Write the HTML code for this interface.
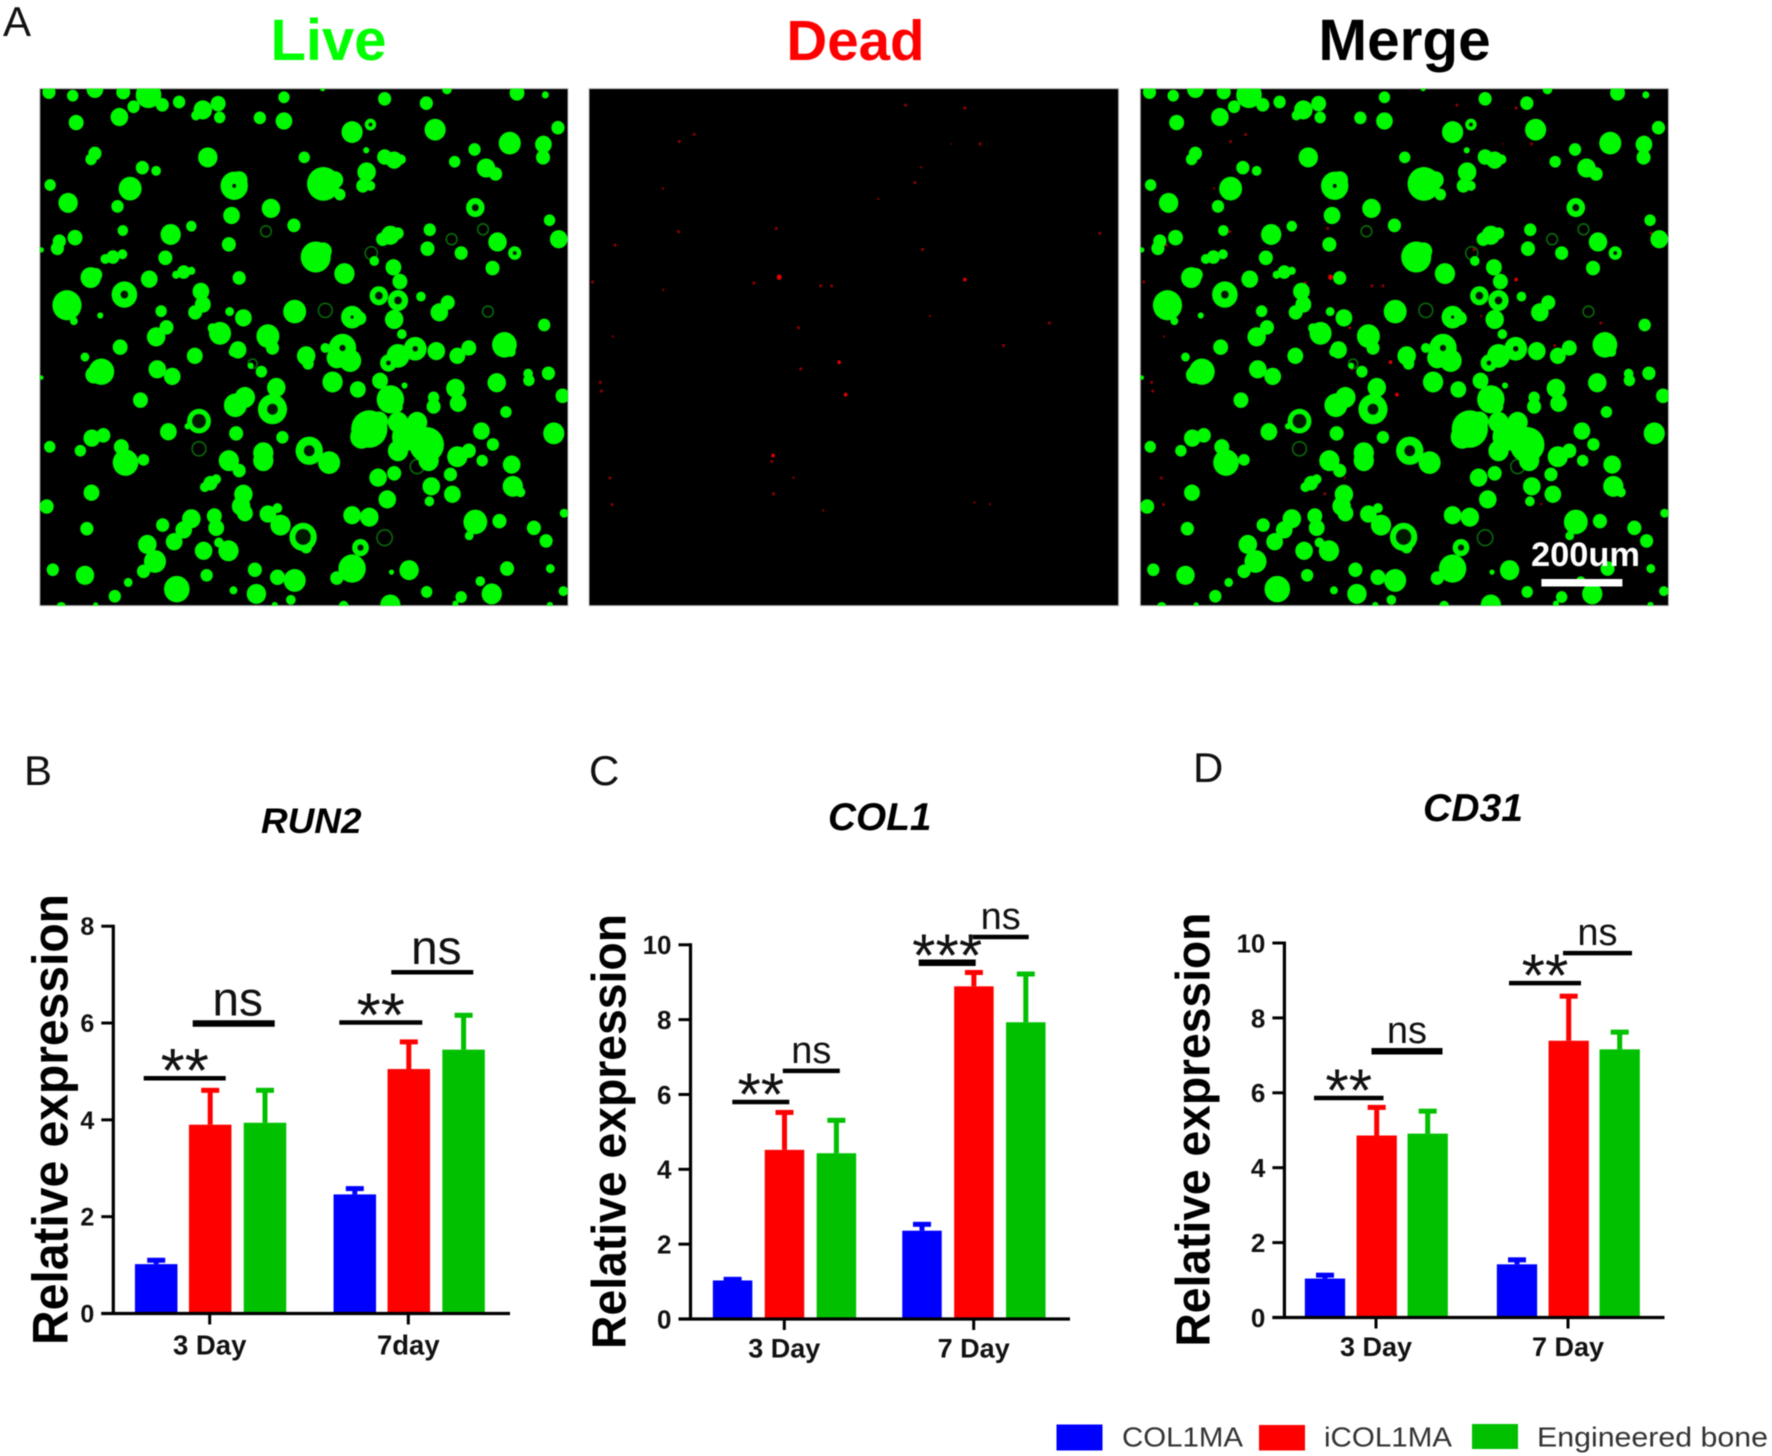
<!DOCTYPE html>
<html lang="en">
<head>
<meta charset="utf-8">
<title>Live/dead staining and relative gene expression</title>
<style>
html,body{margin:0;padding:0;background:#fff;}
svg{display:block;font-family:"Liberation Sans",Arial,sans-serif;filter:blur(0.5px);}
</style>
</head>
<body>
<svg id="figure" width="1772" height="1456" viewBox="0 0 1772 1456" xmlns="http://www.w3.org/2000/svg">
  <rect width="1772" height="1456" fill="#fff"/>
  <defs>
    <clipPath id="cellClip"><rect x="104" y="224" width="1380" height="1308"/></clipPath>
  </defs>

  <text x="3" y="36" font-size="42" fill="#111">A</text>
  <text x="24" y="785" font-size="42" fill="#111">B</text>
  <text x="589" y="785" font-size="42" fill="#111">C</text>
  <text x="1193" y="782" font-size="42" fill="#111">D</text>

  <text x="328.500" y="60" font-size="58" font-weight="700" text-anchor="middle" fill="#00ff00">Live</text>
  <text x="855.500" y="60" font-size="56.500" font-weight="700" text-anchor="middle" fill="#ff0000">Dead</text>
  <text x="1404.500" y="60" font-size="58.500" font-weight="700" text-anchor="middle" fill="#000">Merge</text>

  <rect x="39.800" y="88.600" width="528.200" height="517.100" fill="#000" stroke="#bbb" stroke-width="1"/>
  <rect x="589" y="88.600" width="529.600" height="517.100" fill="#000" stroke="#bbb" stroke-width="1"/>
  <rect x="1140.300" y="88.600" width="528.200" height="517.100" fill="#000" stroke="#bbb" stroke-width="1"/>

  <g id="liveCells" transform="translate(0,0) scale(0.3827,0.3954)"></g>
  <g id="deadCells" transform="translate(580,0) scale(0.357,0.3954)"></g>
  <g id="mergeDead" transform="translate(1131.300,0) scale(0.357,0.3954)"></g>
  <g id="mergeCells" transform="translate(1100.500,0) scale(0.3827,0.3954)"></g>

  <rect x="1541.400" y="579" width="81" height="7.500" fill="#fff"/>
  <text x="1531" y="566" font-size="34.400" font-weight="700" fill="#fff" textLength="109" lengthAdjust="spacingAndGlyphs">200um</text>

  <g id="chartB"></g>
  <g id="chartC"></g>
  <g id="chartD"></g>

  <g>
    <rect x="1056.500" y="1424.500" width="46" height="26" fill="#0000ff"/>
    <text x="1122" y="1446.500" font-size="28" fill="#333" textLength="121" lengthAdjust="spacingAndGlyphs">COL1MA</text>
    <rect x="1259" y="1425" width="46" height="25.500" fill="#ff0000"/>
    <text x="1324" y="1446.500" font-size="28" fill="#333" textLength="128" lengthAdjust="spacingAndGlyphs">iCOL1MA</text>
    <rect x="1472" y="1424" width="46" height="25" fill="#00c000"/>
    <text x="1537" y="1446.500" font-size="28" fill="#333" textLength="231" lengthAdjust="spacingAndGlyphs">Engineered bone</text>
  </g>
</svg>

<script>
// ---- Chart data ----
const run2Title = 'RUN2';
const run2Categories = ['3 Day', '7day'];
const run2TickLabels = [0, 2, 4, 6, 8];
const run2Col1ma = [1.02, 2.46];
const run2Col1maTop = [1.10, 2.58];
const run2Icol1ma = [3.90, 5.05];
const run2Icol1maTop = [4.61, 5.61];
const run2Bone = [3.94, 5.45];
const run2BoneTop = [4.61, 6.16];
const run2SigLabels = ['**', 'ns', '**', 'ns'];
const run2SigLevels = [4.86, 5.99, 6.01, 7.05];

const col1Title = 'COL1';
const col1Categories = ['3 Day', '7 Day'];
const col1TickLabels = [0, 2, 4, 6, 8, 10];
const col1Col1ma = [1.03, 2.36];
const col1Col1maTop = [1.06, 2.53];
const col1Icol1ma = [4.52, 8.89];
const col1Icol1maTop = [5.52, 9.26];
const col1Bone = [4.43, 7.93];
const col1BoneTop = [5.31, 9.22];
const col1SigLabels = ['**', 'ns', '***', 'ns'];
const col1SigLevels = [5.80, 6.63, 9.52, 10.21];

const cd31Title = 'CD31';
const cd31Categories = ['3 Day', '7 Day'];
const cd31TickLabels = [0, 2, 4, 6, 8, 10];
const cd31Col1ma = [1.04, 1.42];
const cd31Col1maTop = [1.13, 1.54];
const cd31Icol1ma = [4.86, 7.39];
const cd31Icol1maTop = [5.61, 8.58];
const cd31Bone = [4.91, 7.16];
const cd31BoneTop = [5.51, 7.62];
const cd31SigLabels = ['**', 'ns', '**', 'ns'];
const cd31SigLevels = [5.86, 7.11, 8.93, 9.73];

// ---- Micrograph blobs ----
const liveBlobs = [
[128,233,14],[190,242,12],[248,226,18],[322,233,15],[388,240,28],[424,265,14],[349,270,13],[468,258,13],[530,278,20],[512,292,10],[570,262,16],[574,297,12],[742,246,12],[1005,250,14],[1114,261,14],[1351,235,16],[843,224,5],[1168,226,10],[1425,240,7],
[199,310,16],[312,296,19],[679,298,13],[742,306,18],[920,334,23],[968,315,12],[1137,328,23],[1458,323,14],[1332,362,24],[1420,365,18],[1240,378,13],[1419,398,15],
[957,380,6],[1005,397,16],[1030,405,18],[1048,403,10],[248,388,14],[238,403,12],[543,398,21],[795,398,12],[1188,409,12],[1270,425,20],[1295,440,14],
[372,424,14],[408,432,10],[131,468,12],[340,477,25],[178,513,21],[307,522,13],
[612,470,30],[625,455,18],[845,465,36],[875,455,18],[958,435,20],[948,470,14],[968,470,10],[888,492,12],
[708,527,20],[1242,525,20],[768,570,14],[605,545,18],[500,572,11],[321,583,11],[446,593,22],[1436,557,12],
[196,601,16],[155,610,14],[150,628,14],[108,632,5],[1123,581,13],[1020,595,20],[1000,605,14],[1040,590,12],[1300,612,20],[1460,605,19],[598,618,15],[1117,629,15],[1205,640,14],[1345,640,14],
[825,650,33],[845,635,18],[295,650,14],[320,643,10],[275,655,10],[432,652,15],[900,692,22],[1028,676,17],[1287,678,15],[978,660,10],
[480,688,14],[460,695,8],[500,685,8],[237,702,22],[250,695,14],[390,706,18],[625,703,14],[325,745,28],
[525,737,18],[175,772,32],[160,785,15],[193,812,8],[770,788,25],[990,748,20],[1040,760,22],[1100,750,10],[1045,712,16],
[1170,765,15],[1148,790,19],[530,770,17],[510,790,15],[600,788,9],[636,804,18],[421,787,12],[262,798,6],[920,802,24],[940,805,14],[1030,808,20],[1422,822,13],
[435,828,15],[408,852,20],[575,843,24],[555,830,10],[700,850,25],[712,880,14],[1318,872,27],[1335,890,10],[1050,845,10],
[314,878,16],[622,885,18],[610,890,10],[800,900,20],[805,920,12],[895,880,30],[880,905,22],[915,912,24],[850,880,10],[1085,882,25],[1040,900,25],[1015,918,18],[1140,888,19],[1195,900,17],[1225,880,16],[509,900,17],[222,903,9],
[265,940,28],[245,948,18],[411,934,19],[450,952,18],[683,940,12],[655,925,6],[1380,945,10],[1382,962,12],[1433,944,14],[108,955,4],
[869,966,22],[993,963,17],[1298,968,20],[722,980,20],[935,985,17],[1190,982,20],[1057,975,6],
[1470,1001,15],[367,1012,16],[640,1005,22],[615,1025,25],[712,1035,32],[1020,1010,30],[1040,1030,10],[1133,1005,12],[1133,1028,15],[1197,1020,18],[1322,1042,12],
[520,1065,26],[490,1078,6],[440,1092,18],[965,1085,40],[945,1105,25],[990,1065,20],[1040,1068,22],[1090,1068,22],[1060,1105,30],[1040,1140,22],[1115,1125,38],[1120,1165,22],[1258,1090,18],[1447,1096,23],
[617,1096,15],[738,1106,13],[240,1108,18],[270,1101,15],[210,1140,12],[130,1130,12],[317,1130,16],[328,1170,28],[375,1163,12],[1288,1124,13],
[808,1140,30],[860,1170,24],[688,1145,22],[688,1165,22],[598,1165,22],[625,1190,14],
[1195,1155,22],[1225,1140,15],[1260,1165,12],[1337,1175,19],
[988,1208,19],[1030,1197,15],[1177,1200,14],[1127,1230,19],[550,1222,15],[535,1232,10],[565,1212,10],[1340,1230,22],[1360,1245,10],[239,1246,17],
[1182,1250,18],[1012,1263,19],[636,1250,20],[630,1280,20],[640,1298,17],[1122,1268,10],[122,1281,15],[1242,1320,26],[1305,1318,15],[1474,1298,9],
[920,1303,19],[965,1308,20],[700,1300,18],[725,1285,10],[733,1328,22],[425,1328,14],[500,1312,20],[480,1340,18],[455,1370,18],[560,1305,16],[565,1335,17],[227,1337,14],[1395,1335,15],
[792,1358,30],[800,1385,12],[942,1385,18],[385,1377,20],[1427,1368,14],[1226,1355,9],[572,1372,10],[532,1393,19],[597,1393,22],
[405,1420,24],[375,1445,14],[138,1441,13],[222,1455,20],[335,1473,9],[920,1438,30],[880,1462,14],[1069,1442,21],[1023,1447,5],[1325,1438,15],[1438,1438,9],[666,1441,15],[540,1455,13],[725,1460,16],[770,1468,24],
[462,1490,28],[300,1508,13],[670,1502,21],[610,1493,8],[1115,1497,12],[1205,1510,12],[1285,1502,22],[1255,1470,10],[1472,1495,10],[760,1517,10],
[160,1535,10],[1020,1530,22],[898,1532,10],[718,1530,6],[1437,1530,6],[1190,1527,6],[250,1530,5]
];
const blobHoles = [
[808,1140,14],[712,1035,14],[792,1358,20],[1040,760,10],[990,748,10],[942,1385,8],[612,470,5],[1242,525,9],[968,315,5],[325,745,10],[895,880,8],[1015,918,6],[1085,882,7],[520,1065,18],[1345,640,5],[920,802,4]
];
const dimBlobs = [
[695,585,14],[520,1135,18],[1005,1360,20],[1180,605,14],[1262,580,14],[1275,788,14],[970,640,16],[660,920,12],[850,785,18],[1090,1180,18]
];
const deadDots = [
[912,266,4],[1078,273,4],[320,340,4],[278,358,4],[1121,364,4],[232,477,3],[938,462,4],[836,503,3],[276,586,4],[550,578,4],[98,620,4],[1456,590,4],[960,631,4],[558,701,7],[35,713,4],[487,716,4],[674,723,4],[705,723,4],[233,733,3],[1078,707,5],[980,799,3],[612,829,4],[1315,817,4],[92,851,3],[1186,874,4],[726,916,5],[618,933,4],[57,967,4],[60,989,4],[744,998,5],[541,1152,5],[537,1167,4],[84,1209,4],[598,1208,3],[90,1276,4],[542,1249,4],[681,1291,3],[1105,1271,3],[1148,1275,3],[956,423,3],[1040,364,2]
];

const SVG_NS = 'http://www.w3.org/2000/svg';
function mk(parent, tag, attrs, text) {
  const el = document.createElementNS(SVG_NS, tag);
  Object.keys(attrs).forEach(function (k) { el.setAttribute(k, attrs[k]); });
  if (text !== undefined) el.textContent = text;
  parent.appendChild(el);
  return el;
}

function drawLive(group) {
  group.setAttribute('clip-path', 'url(#cellClip)');
  dimBlobs.forEach(function (b) {
    const el = mk(group, 'circle', {cx: b[0], cy: b[1], r: b[2], fill: 'none', stroke: '#0a6a0a', 'stroke-width': 4});
    
    
  });
  liveBlobs.forEach(function (b) {
    const el = mk(group, 'circle', {cx: b[0], cy: b[1], r: b[2] * 1.16 + 1, fill: '#00f800'});
    
    
  });
  blobHoles.forEach(function (b) {
    const el = mk(group, 'circle', {cx: b[0], cy: b[1], r: b[2], fill: '#001a00'});
    
    
  });
}
function drawDead(group) {
  deadDots.forEach(function (b) {
    const el = mk(group, 'circle', {cx: b[0], cy: b[1], r: b[2], fill: b[2] > 4 ? '#e00000' : '#900000'});
    
    
  });
}
drawLive(document.getElementById('liveCells'));
drawLive(document.getElementById('mergeCells'));
drawDead(document.getElementById('deadCells'));
drawDead(document.getElementById('mergeDead'));

const seriesColors = ['#0000ff', '#ff0000', '#00c000'];
const seriesNames = ['col1ma', 'icol1ma', 'engineered-bone'];

function drawChart(g, c) {
  const yMax = c.ticks[c.ticks.length - 1];
  const yScale = function (v) { return c.y0 - (v / yMax) * (c.y0 - c.yTop); };
  const xScale = function (group, offset) { return c.xTicks[group] + offset; };

  c.series.forEach(function (values, s) {
    values.forEach(function (v, i) {
      const cx = xScale(i, c.offsets[s]);
      const top = c.tops[s][i];
      const stem = mk(g, 'rect', {x: cx - 2.5, y: yScale(top), width: 5, height: yScale(v) - yScale(top), fill: seriesColors[s]});
      
      
      const cap = mk(g, 'rect', {x: cx - 9, y: yScale(top) - 2.5, width: 18, height: 5, fill: seriesColors[s]});
      
      
      const bar = mk(g, 'rect', {x: cx - c.barW / 2, y: yScale(v), width: c.barW, height: c.y0 - yScale(v), fill: seriesColors[s]});
      
      
    });
  });

  const xAxis = mk(g, 'line', {x1: c.axisX - 12, y1: c.y0, x2: c.axisRight, y2: c.y0, stroke: '#000', 'stroke-width': 3.2});
  
  
  const yAxis = mk(g, 'line', {x1: c.axisX, y1: c.y0 + 1.5, x2: c.axisX, y2: yScale(yMax) - 1.5, stroke: '#000', 'stroke-width': 3.2});
  
  

  c.ticks.forEach(function (t) {
    const tick = mk(g, 'line', {x1: c.axisX - 12, y1: yScale(t), x2: c.axisX, y2: yScale(t), stroke: '#000', 'stroke-width': 3});
    
    
    const label = mk(g, 'text', {x: c.axisX - 19, y: yScale(t) + c.tickSize * 0.36, 'font-size': c.tickSize, 'font-weight': 700, 'text-anchor': 'end', fill: '#111'}, t);
    
    
  });

  c.categories.forEach(function (name, i) {
    const tick = mk(g, 'line', {x1: xScale(i, 0), y1: c.y0, x2: xScale(i, 0), y2: c.y0 + 11, stroke: '#000', 'stroke-width': 3});
    
    
    const label = mk(g, 'text', {x: xScale(i, 0), y: c.catBaseline, 'font-size': c.catSize, 'font-weight': 700, 'text-anchor': 'middle', fill: '#111'}, name);
    
    
  });

  const yTitle = mk(g, 'text', {
    transform: 'translate(' + c.yTitleX + ',' + c.yTitleY + ') rotate(-90)',
    'font-size': c.yTitleSize, 'font-weight': 700, fill: '#000',
    textLength: c.yTitleLen, lengthAdjust: 'spacingAndGlyphs'
  }, 'Relative expression');
  
  

  const title = mk(g, 'text', {
    x: c.titleX, y: c.titleY, 'font-size': c.titleSize, 'font-weight': 700, 'font-style': 'italic',
    fill: '#000', textLength: c.titleLen, lengthAdjust: 'spacingAndGlyphs'
  }, c.title);
  
  

  c.sigLabels.forEach(function (lab, i) {
    const s = c.sigSpans[i];
    const group = Math.floor(i / 2);
    const x1 = xScale(group, s[0]);
    const x2 = xScale(group, s[1]);
    const y = yScale(c.sigLevels[i]);
    const line = mk(g, 'line', {x1: x1, y1: y, x2: x2, y2: y, stroke: '#000', 'stroke-width': s[2]});
    
    
    const isStar = lab.charAt(0) === '*';
    const size = isStar ? c.starSize : c.nsSize;
    const baseY = isStar ? y - 14 + size * 0.45 : y - 8;
    const labelX = (x1 + x2) / 2 + (isStar ? 0 : c.nsDx);
    const t = mk(g, 'text', {x: labelX, y: baseY, 'font-size': size, 'text-anchor': 'middle', fill: '#111'}, lab);
    
    
  });
}

drawChart(document.getElementById('chartB'), {
  title: run2Title, categories: run2Categories, ticks: run2TickLabels,
  series: [run2Col1ma, run2Icol1ma, run2Bone], tops: [run2Col1maTop, run2Icol1maTop, run2BoneTop],
  sigLabels: run2SigLabels, sigLevels: run2SigLevels,
  sigSpans: [[-66, 16, 4.5], [-17, 65, 6.5], [-69, 14, 4.5], [-17, 65, 4.5]],
  axisX: 113.3, axisRight: 510, y0: 1313.5, yTop: 926.2,
  xTicks: [209.7, 408.3], offsets: [-53.5, 0.5, 55.3], barW: 42.5,
  tickSize: 25, catSize: 27.5, catBaseline: 1354.7,
  yTitleX: 67.7, yTitleY: 1345, yTitleSize: 50, yTitleLen: 451,
  titleX: 261, titleY: 832.8, titleSize: 35, titleLen: 100.5,
  nsSize: 48, nsDx: 4, starSize: 62
});
drawChart(document.getElementById('chartC'), {
  title: col1Title, categories: col1Categories, ticks: col1TickLabels,
  series: [col1Col1ma, col1Icol1ma, col1Bone], tops: [col1Col1maTop, col1Icol1maTop, col1BoneTop],
  sigLabels: col1SigLabels, sigLevels: col1SigLevels,
  sigSpans: [[-52, 5, 4.5], [-1.5, 55.5, 4.5], [-55, 2, 6.5], [-1, 55, 4.5]],
  axisX: 690.5, axisRight: 1070, y0: 1319, yTop: 944.8,
  xTicks: [784.3, 973.7], offsets: [-51.7, 0.2, 52.1], barW: 39.5,
  tickSize: 26, catSize: 27, catBaseline: 1357.6,
  yTitleX: 625.5, yTitleY: 1349, yTitleSize: 48, yTitleLen: 435,
  titleX: 828, titleY: 830, titleSize: 38.8, titleLen: 103.5,
  nsSize: 38, nsDx: 0, starSize: 60
});
drawChart(document.getElementById('chartD'), {
  title: cd31Title, categories: cd31Categories, ticks: cd31TickLabels,
  series: [cd31Col1ma, cd31Icol1ma, cd31Bone], tops: [cd31Col1maTop, cd31Icol1maTop, cd31BoneTop],
  sigLabels: cd31SigLabels, sigLevels: cd31SigLevels,
  sigSpans: [[-62, 7.5, 4.5], [-4.5, 66.5, 6.5], [-59, 13, 4.5], [-5, 64, 4.5]],
  axisX: 1284.4, axisRight: 1664.5, y0: 1317.5, yTop: 943,
  xTicks: [1376, 1568], offsets: [-51, 0.7, 51.7], barW: 40.3,
  tickSize: 26, catSize: 27, catBaseline: 1356,
  yTitleX: 1209.5, yTitleY: 1346.6, yTitleSize: 48, yTitleLen: 434,
  titleX: 1423, titleY: 821, titleSize: 38.5, titleLen: 100,
  nsSize: 38, nsDx: 0, starSize: 60
});
</script>
</body>
</html>
